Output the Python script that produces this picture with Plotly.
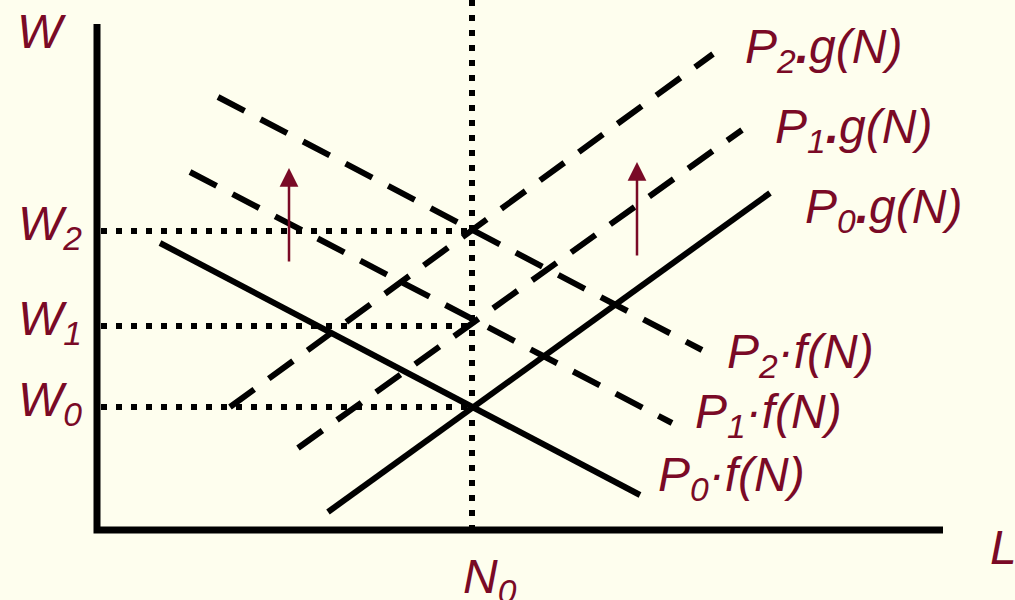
import plotly.graph_objects as go

# ---- data (diagram units: pixel-like coordinates, y downward) ----
axis_x = [97, 97, 943]
axis_y = [24, 530, 530]

N0 = 472
W_levels = [407, 326, 231]          # W0, W1, W2
W_labels = ["W<sub>0</sub>", "W<sub>1</sub>", "W<sub>2</sub>"]

curve_names = ["P0 f(N)", "P0 g(N)", "P1 f(N)", "P1 g(N)", "P2 f(N)", "P2 g(N)"]
curve_x = [[160, 640], [328, 770], [190, 672], [298, 742], [218, 702], [230, 713]]
curve_y = [[243, 495], [512, 193], [172, 423], [448, 130], [97, 350], [407, 54]]
curve_dash = ["solid", "solid", "30px,18px", "30px,18px", "30px,18px", "30px,18px"]

curve_labels = ["P<sub>0</sub>·f(N)", "P<sub>0</sub><b>.</b>g(N)",
                "P<sub>1</sub>·f(N)", "P<sub>1</sub><b>.</b>g(N)",
                "P<sub>2</sub>·f(N)", "P<sub>2</sub><b>.</b>g(N)"]
label_x = [656, 803, 693, 773, 725, 743]
label_y = [478, 210, 415, 130, 355, 50]

arrow_x = [289, 637]
arrow_tail_y = [263, 257]
arrow_head_y = [168, 162]

RED = "#7A0A26"
FONT = "Liberation Sans"

fig = go.Figure()

# axes
fig.add_trace(go.Scatter(x=axis_x, y=axis_y, mode="lines",
                         line=dict(color="black", width=7), hoverinfo="skip"))

# dotted guide lines
fig.add_trace(go.Scatter(x=[N0, N0], y=[0, 530], mode="lines",
                         line=dict(color="black", width=6, dash="6px,9px"), hoverinfo="skip"))
for w in W_levels:
    fig.add_trace(go.Scatter(x=[101, N0], y=[w, w], mode="lines",
                             line=dict(color="black", width=6, dash="6px,9px"), hoverinfo="skip"))

# curves
for name, xs, ys, d in zip(curve_names, curve_x, curve_y, curve_dash):
    fig.add_trace(go.Scatter(x=xs, y=ys, mode="lines", name=name,
                             line=dict(color="black", width=6, dash=d), hoverinfo="skip"))

tfont = dict(family=FONT, size=48, color=RED, style="italic")

annotations = []
for t, x, y in zip(curve_labels, label_x, label_y):
    annotations.append(dict(x=x, y=y, xref="x", yref="y", text=t, showarrow=False,
                            xanchor="left", yanchor="middle", font=tfont))
for t, y in zip(W_labels, W_levels):
    annotations.append(dict(x=84, y=y - 4, xref="x", yref="y", text=t, showarrow=False,
                            xanchor="right", yanchor="middle", font=tfont))
annotations.append(dict(x=15, y=31, xref="x", yref="y", text="W", showarrow=False,
                        xanchor="left", yanchor="middle", font=tfont))
annotations.append(dict(x=988, y=547, xref="x", yref="y", text="L", showarrow=False,
                        xanchor="left", yanchor="middle", font=tfont))
annotations.append(dict(x=461, y=580, xref="x", yref="y", text="N<sub>0</sub>", showarrow=False,
                        xanchor="left", yanchor="middle", font=tfont))

for x, yt, yh in zip(arrow_x, arrow_tail_y, arrow_head_y):
    annotations.append(dict(x=x, y=yh, ax=x, ay=yt, xref="x", yref="y", axref="x", ayref="y",
                            text="", showarrow=True, arrowhead=2, arrowsize=1.5,
                            arrowwidth=2.5, arrowcolor=RED))

fig.update_layout(
    width=1015, height=600,
    margin=dict(l=0, r=0, t=0, b=0),
    paper_bgcolor="#FEFEEE", plot_bgcolor="#FEFEEE",
    showlegend=False,
    xaxis=dict(range=[0, 1015], visible=False, fixedrange=True),
    yaxis=dict(range=[600, 0], visible=False, fixedrange=True),
    annotations=annotations,
)

fig.write_html("out.html", config={"displayModeBar": False},
               post_script="document.body.style.margin='0';document.body.style.background='#FEFEEE';")
